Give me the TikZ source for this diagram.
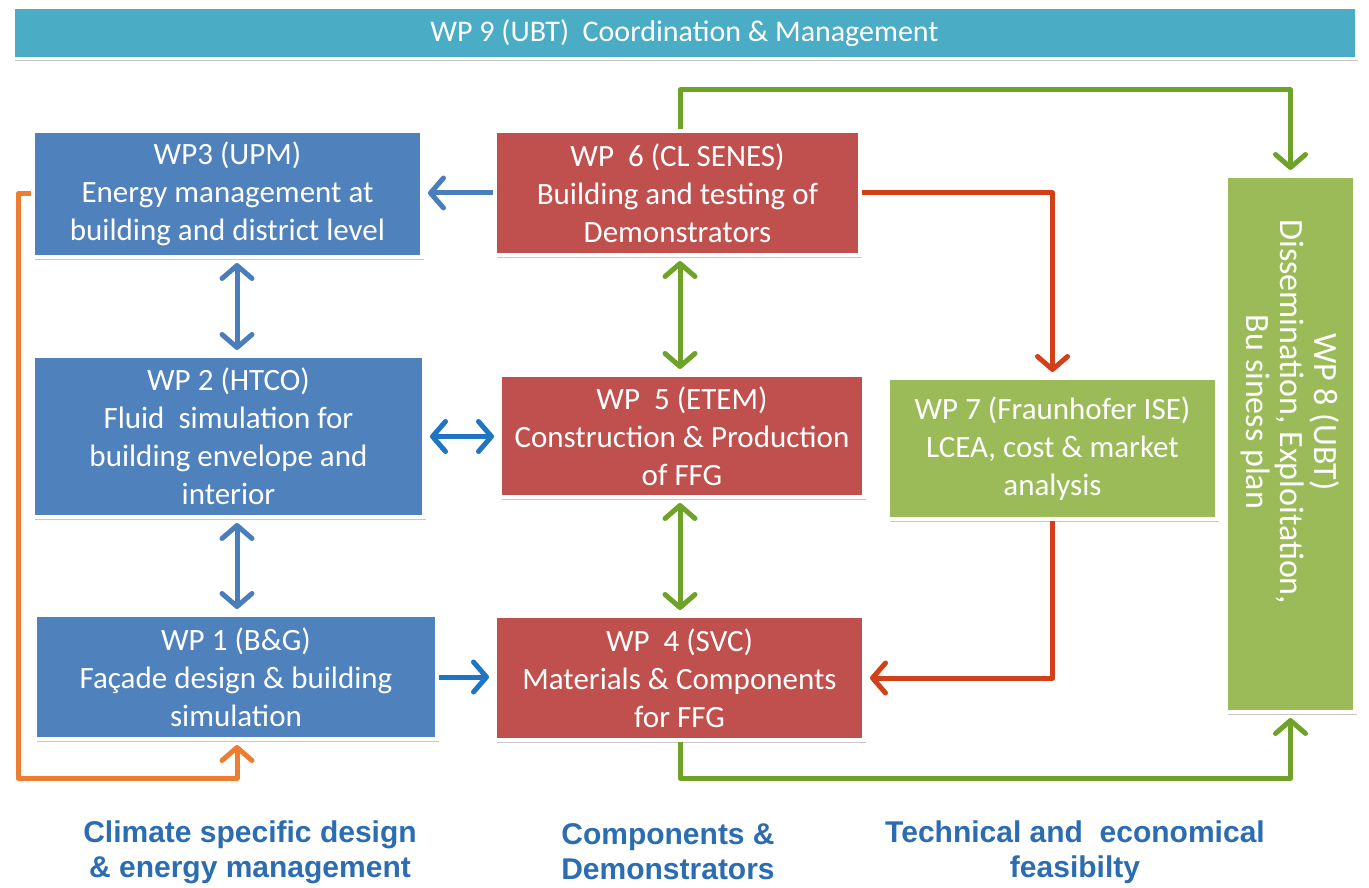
\documentclass[tikz,border=0pt]{standalone}
\usepackage{fontspec}
\setmainfont{Carlito}
\newfontfamily\labelfont{Liberation Sans}
\usetikzlibrary{arrows.meta,shadows}
\definecolor{boxblue}{HTML}{4F81BD}
\definecolor{boxred}{HTML}{C0504D}
\definecolor{boxgreen}{HTML}{9BBB59}
\definecolor{barteal}{HTML}{4BACC6}
\definecolor{arrblue}{HTML}{4A7EBB}
\definecolor{arrbluetwo}{HTML}{1F75C4}
\definecolor{arrgreen}{HTML}{6EA229}
\definecolor{arrred}{HTML}{D2401A}
\definecolor{arrorange}{HTML}{ED7D31}
\definecolor{labelblue}{HTML}{2C6DB2}
\tikzset{
  wpbox/.style={draw=white, line width=4pt, text=white, align=center,
    font=\fontsize{31}{38}\selectfont, inner sep=0pt,
    drop shadow={shadow xshift=1.5pt, shadow yshift=-2.5pt, opacity=0.22, fill=black}},
  bluebox/.style={wpbox, fill=boxblue},
  redbox/.style={wpbox, fill=boxred},
  greenbox/.style={wpbox, fill=boxgreen},
  tip/.tip={Straight Barb[length=13pt, width=30pt, round]},
  conn/.style={line width=5pt, -tip, shorten >=4pt, line join=round},
  dconn/.style={line width=5pt, tip-tip, shorten >=4pt, shorten <=4pt},
  grouplabel/.style={text=labelblue, align=center,
    font=\labelfont\bfseries\fontsize{30}{35}\selectfont, inner sep=0pt}
}
\begin{document}
\begin{tikzpicture}[x=1pt, y=-1pt]
\fill[white] (0,0) rectangle (1369,888);
\useasboundingbox (0,0) rectangle (1369,888);

% top bar
\node[wpbox, fill=barteal, line width=3pt, minimum width=1343pt, minimum height=51pt,
  font=\fontsize{30}{36}\selectfont] (wp9) at (684.5,33) {WP 9 (UBT)\ \ Coordination \& Management};

% boxes
\node[bluebox, minimum width=389pt, minimum height=126pt] (wp3) at (227.5,194)
  {WP3 (UPM)\\Energy management at\\building and district level};
\node[redbox, minimum width=365pt, minimum height=124pt] (wp6) at (677.5,193)
  {WP\ \ 6 (CL SENES)\\Building and testing of\\Demonstrators};
\node[bluebox, minimum width=391pt, minimum height=161pt] (wp2) at (228.5,436.5)
  {WP 2 (HTCO)\\Fluid\ \ simulation for\\building envelope and\\interior};
\node[redbox, minimum width=364pt, minimum height=122pt] (wp5) at (682,436)
  {WP\ \ 5 (ETEM)\\Construction \& Production\\of FFG};
\node[greenbox, minimum width=329pt, minimum height=141pt] (wp7) at (1052.5,448.5)
  {WP 7 (Fraunhofer ISE)\\LCEA, cost \& market\\analysis};
\node[bluebox, minimum width=402pt, minimum height=124pt] (wp1) at (236,677)
  {WP 1 (B\&G)\\Façade design \& building\\simulation};
\node[redbox, minimum width=369pt, minimum height=124pt] (wp4) at (679.5,678)
  {WP\ \ 4 (SVC)\\Materials \& Components\\for FFG};
\node[greenbox, minimum width=129pt, minimum height=536pt] (wp8) at (1290.5,444) {};
\node[rotate=-90, text=white, align=center, inner sep=0pt,
  font=\fontsize{34}{34}\selectfont] (wp8text) at ([yshift=32pt]wp8.center)
  {WP 8 (UBT)\\Dissemination, Exploitation,\\Bu siness plan};

% helper coordinates
\coordinate (xL) at (237,0);
\coordinate (xM) at (680,0);
\coordinate (xO) at (18,0);
\coordinate (yTop) at (0,90);
\coordinate (yBot) at (0,778);

% connectors
\draw[conn, arrblue] (wp6.west) -- (wp6.west -| wp3.east);
\draw[dconn, arrblue] (wp3.south -| xL) -- (wp2.north -| xL);
\draw[dconn, arrblue] (wp2.south -| xL) -- (wp1.north -| xL);
\draw[dconn, arrbluetwo] (wp2.east) -- (wp2.east -| wp5.west);
\draw[conn, arrbluetwo] (wp1.east) -- (wp1.east -| wp4.west);
\draw[dconn, arrgreen] (wp6.south -| xM) -- (wp5.north -| xM);
\draw[dconn, arrgreen] (wp5.south -| xM) -- (wp4.north -| xM);
\draw[conn, arrred] (wp6.east) -| (wp7.north);
\draw[conn, arrred] (wp7.south) |- (wp4.east);
\draw[conn, arrgreen] (wp6.north -| xM) |- (yTop -| wp8.north) -- (wp8.north);
\draw[conn, arrgreen] (wp4.south -| xM) |- (yBot -| wp8.south) -- (wp8.south);
\draw[conn, arrorange] (wp3.west) -- (wp3.west -| xO) |- (yBot -| xL) -- (wp1.south -| xL);

% group labels
\node[grouplabel] (g1) at (250,852) {Climate specific design\\\& energy management};
\node[grouplabel] (g2) at (668,852) {Components \&\\Demonstrators};
\node[grouplabel] (g3) at (1075,852) {Technical and\ \ economical\\feasibilty};
\end{tikzpicture}
\end{document}
